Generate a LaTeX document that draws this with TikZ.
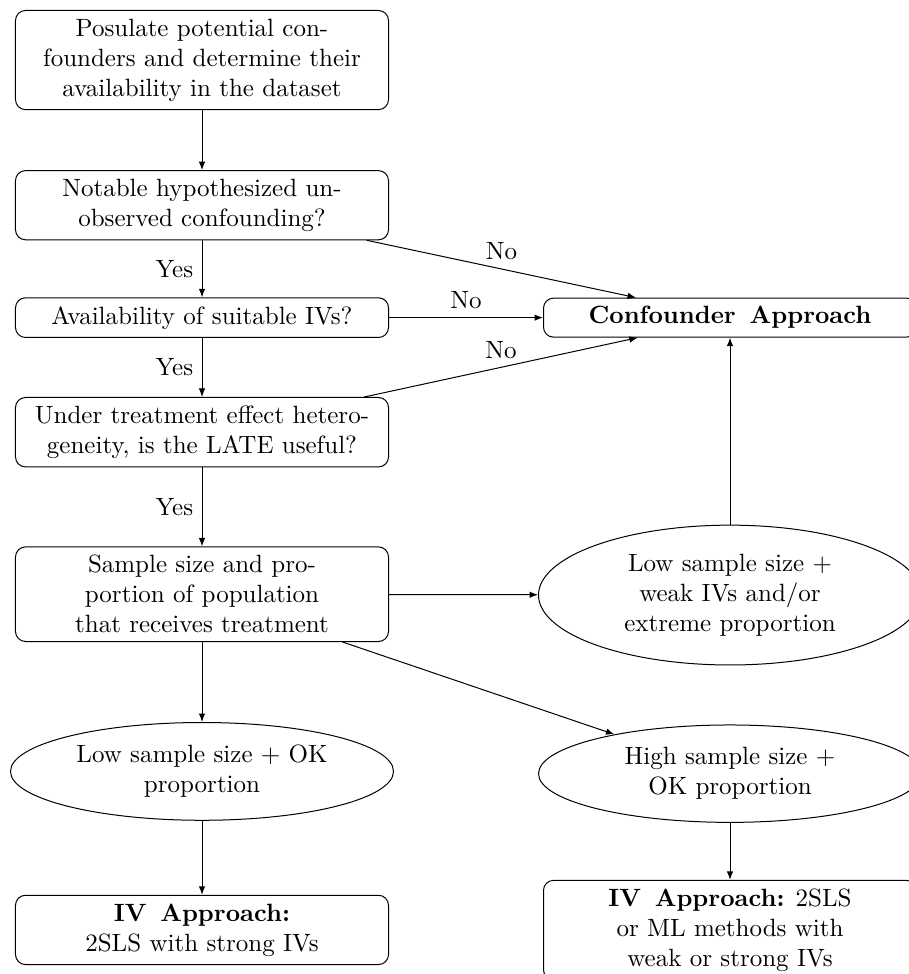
\documentclass[tikz,border=0pt]{standalone}
\usetikzlibrary{shapes.geometric, arrows.meta, positioning}
\begin{document}
\begin{tikzpicture}[
        box/.style={draw, rounded corners=4pt, align=center, minimum width=149.2pt},
        oval/.style={draw, ellipse, align=center, minimum width=153.2pt},
        arr/.style={-{Latex[length=3.4pt, width=2.6pt]}}
    ]
        \node[box] (post) {Posulate potential con-\\founders and determine their\\availability in the dataset};
        \node[box, below=24pt of post] (unobs) {Notable hypothesized un-\\observed confounding?};
        \node[box, below=22.8pt of unobs] (avail) {Availability of suitable IVs?};
        \node[box, below=23.6pt of avail] (late) {Under treatment effect hetero-\\geneity, is the LATE useful?};
        \node[box, below=31.6pt of late] (size) {Sample size and pro-\\portion of population\\that receives treatment};
        \node[oval, below=32pt of size] (lowok) {Low sample size $+$ OK\\proportion};
        \node[box, below=29.6pt of lowok] (ivstrong) {\textbf{IV\hspace{0.55em}Approach:}\\2SLS with strong IVs};
        \node[box, right=61.6pt of avail] (conf) {\textbf{Confounder\hspace{0.55em}Approach}};
        \node[oval, below=74.8pt of conf] (lowweak) {Low sample size $+$\\weak IVs and/or\\extreme proportion};
        \node[oval, below=23.6pt of lowweak] (highok) {High sample size $+$\\OK proportion};
        \node[box, below=22.8pt of highok] (ivml) {\textbf{IV\hspace{0.55em}Approach:} 2SLS\\or ML methods with\\weak or strong IVs};
        \draw[arr] (post) -- (unobs);
        \draw[arr] (unobs) -- node[left] {Yes} (avail);
        \draw[arr] (avail) -- node[left] {Yes} (late);
        \draw[arr] (late) -- node[left] {Yes} (size);
        \draw[arr] (unobs) -- node[above] {No} (conf);
        \draw[arr] (avail) -- node[above] {No} (conf);
        \draw[arr] (late) -- node[above] {No} (conf);
        \draw[arr] (size) -- (lowweak);
        \draw[arr] (size) -- (lowok);
        \draw[arr] (size) -- (highok);
        \draw[arr] (lowok) -- (ivstrong);
        \draw[arr] (highok) -- (ivml);
        \draw[arr] (lowweak) -- (conf);
        % page as in the original, cut on the right and at the bottom
        \pgfresetboundingbox
        \useasboundingbox ([shift={(-6pt,4pt)}]post.north west) rectangle ++(363.2pt,-389.6pt);
    \end{tikzpicture}
\end{document}
